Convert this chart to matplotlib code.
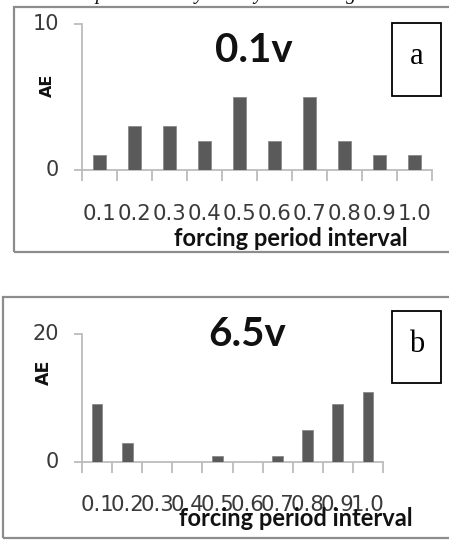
import matplotlib
matplotlib.use("Agg")
import matplotlib.pyplot as plt
from matplotlib.patches import Rectangle
import numpy as np

W, H = 449, 541
DPI = 100

categories = ["0.1", "0.2", "0.3", "0.4", "0.5", "0.6", "0.7", "0.8", "0.9", "1.0"]
ae_a = [1, 3, 3, 2, 5, 2, 5, 2, 1, 1]
ae_b = [9, 3, 0, 0, 1, 0, 1, 5, 9, 11]
titles = ["0.1v", "6.5v"]
letters = ["a", "b"]
ymax = [10, 20]
xlabel = "forcing period interval"
ylabel = "AE"
caption = "Temporal activity and by the driving"

BAR = "#5a5a5a"
AXC = "#bcbcbc"
TXT = "#3a3a3a"

fig = plt.figure(figsize=(W / DPI, H / DPI), dpi=DPI)
fig.patch.set_facecolor("white")


def fx(x):
    return x / W


def fy(y):
    return 1 - y / H


def add_rect(x0, y0, x1, y1, color, lw):
    fig.patches.append(Rectangle((fx(x0), fy(y1)), fx(x1) - fx(x0), fy(y0) - fy(y1),
                                 transform=fig.transFigure, fill=False,
                                 edgecolor=color, linewidth=lw))


# cut-off caption line at the top (only descenders visible)
fig.text(fx(63), fy(-0.5), caption,
         family="Liberation Serif", style="italic", fontsize=14.5, color="#111111",
         ha="left", va="baseline")

# outer frames
add_rect(14, 7, 455, 252, "#8c8c8c", 1.6)
add_rect(3, 297, 455, 538, "#8c8c8c", 1.6)

panels = [
    dict(vals=ae_a, left=82, right=432, y0=170, ytop=24, bw=0.38,
         title_xy=(254, 50), box=(392, 23, 441, 96), ae_xy=(47, 85), ae_fs=11.5,
         ticklab_y=214, xlab_xy=(291, 238)),
    dict(vals=ae_b, left=82, right=383, y0=462, ytop=334, bw=0.36,
         title_xy=(247, 335), box=(392, 311, 441, 383), ae_xy=(44, 372), ae_fs=12.5,
         ticklab_y=505, xlab_xy=(296, 519)),
]

for i, p in enumerate(panels):
    ax = fig.add_axes([fx(p["left"]), fy(p["y0"]), fx(p["right"]) - fx(p["left"]),
                       fy(p["ytop"]) - fy(p["y0"])])
    ax.set_facecolor("none")
    x = np.arange(len(categories))
    ax.bar(x, p["vals"], width=p["bw"], color=BAR, edgecolor="#8a8a8a",
           linewidth=0.6, zorder=3)
    ax.set_xlim(-0.5, len(categories) - 0.5)
    ax.set_ylim(0, ymax[i])
    for s in ["top", "right"]:
        ax.spines[s].set_visible(False)
    for s in ["left", "bottom"]:
        ax.spines[s].set_color(AXC)
        ax.spines[s].set_linewidth(1.3)
    ax.set_yticks([0, ymax[i]])
    ax.set_yticklabels([])
    ax.tick_params(axis="y", length=6, width=1.3, color=AXC, direction="out")
    ax.set_xticks(np.arange(-0.5, len(categories), 1.0))
    ax.set_xticklabels([])
    ax.tick_params(axis="x", length=8, width=1.3, color=AXC, direction="out")
    # y tick labels
    for v in [0, ymax[i]]:
        yy = p["y0"] + (p["ytop"] - p["y0"]) * v / ymax[i]
        fig.text(fx(59), fy(yy), str(v), family="DejaVu Sans", fontsize=15,
                 color=TXT, ha="right", va="center")
    # x tick labels, centred on each category
    for k, c in enumerate(categories):
        xx = p["left"] + (p["right"] - p["left"]) * (k + 0.5) / len(categories)
        fig.text(fx(xx), fy(p["ticklab_y"]), c, family="DejaVu Sans", fontsize=15.3,
                 color=TXT, ha="center", va="center")
    fig.text(fx(p["xlab_xy"][0]), fy(p["xlab_xy"][1]), xlabel, family="Lato",
             fontweight="bold", fontsize=17, color="#111111", ha="center", va="center")
    fig.text(fx(p["ae_xy"][0]), fy(p["ae_xy"][1]), ylabel, family="DejaVu Sans",
             fontweight="bold", fontsize=p["ae_fs"], color="#111111", ha="center",
             va="center", rotation=90)
    fig.text(fx(p["title_xy"][0]), fy(p["title_xy"][1]), titles[i], family="Lato",
             fontweight="bold", fontsize=29, color="#111111", ha="center", va="center")
    bx0, by0, bx1, by1 = p["box"]
    add_rect(bx0, by0, bx1, by1, "black", 1.3)
    fig.text(fx((bx0 + bx1) / 2), fy((by0 + by1) / 2 - 3), letters[i],
             family="Liberation Serif", fontsize=22, color="black",
             ha="center", va="center")

fig.savefig("out.png", dpi=DPI)
